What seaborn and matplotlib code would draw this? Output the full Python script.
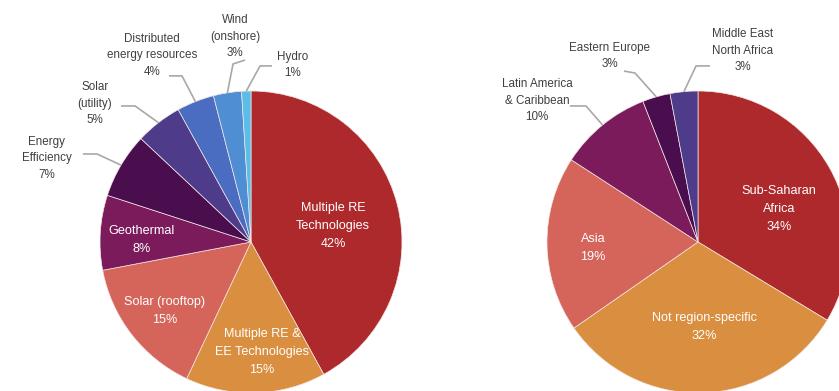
import numpy as np
import matplotlib
matplotlib.use("Agg")
import matplotlib.pyplot as plt
import seaborn as sns

# Funding share by technology
tech_labels = ["Multiple RE\nTechnologies", "Multiple RE &\nEE Technologies", "Solar (rooftop)",
               "Geothermal", "Energy\nEfficiency", "Solar\n(utility)", "Distributed\nenergy resources",
               "Wind\n(onshore)", "Hydro"]
tech_values = [42, 15, 15, 8, 7, 5, 4, 3, 1]

# Funding share by region
region_labels = ["Sub-Saharan\nAfrica", "Not region-specific", "Asia", "Latin America\n& Caribbean",
                 "Eastern Europe", "Middle East\nNorth Africa"]
region_values = [34, 32, 19, 10, 3, 3]

tech_colors = ["#AD292B", "#D98F3F", "#D5655A", "#7B1B5B", "#4A0D4E",
               "#4E3B8A", "#4A6CC1", "#4F8ED2", "#5BBDE9"]
region_colors = ["#AD292B", "#D98F3F", "#D5655A", "#7B1B5B", "#4A0D4E", "#4E3B8A"]

sns.set_theme(style="white")
plt.rcParams["font.family"] = ["Liberation Sans", "DejaVu Sans"]

W, H = 839, 391
fig = plt.figure(figsize=(W / 100, H / 100), dpi=100)
fig.patch.set_facecolor("white")

R_PX = 151
FS_IN, LS_IN = 9.1, 1.62
FS_OUT, LS_OUT = 8.4, 1.5


def pie_axes(cx, cy):
    return fig.add_axes([(cx - R_PX) / W, (H - cy - R_PX) / H, 2 * R_PX / W, 2 * R_PX / H])


def draw_pie(ax, labels, values, colors, inside, outside):
    wedges, _ = ax.pie(values, colors=sns.color_palette(colors), startangle=90, counterclock=False,
                       radius=1, wedgeprops=dict(edgecolor="#f3e6e6", linewidth=0.5))
    ax.set_xlim(-1, 1)
    ax.set_ylim(-1, 1)
    ax.set_aspect("equal")
    ax.axis("off")
    for w in wedges:
        w.set_clip_on(False)
    total = sum(values)
    for i, (lab, val) in enumerate(zip(labels, values)):
        text = f"{lab}\n{round(100 * val / total)}%"
        if i in inside:
            x, y = inside[i]
            ax.text(x, y, text, ha="center", va="center", color="white", fontsize=FS_IN,
                    linespacing=LS_IN, clip_on=False)
        else:
            (tx, ty), elbow = outside[i]
            ax.text(tx, ty, text, ha="center", va="center", color="#404040", fontsize=FS_OUT,
                    linespacing=LS_OUT, clip_on=False)
            w = wedges[i]
            mid = np.deg2rad((w.theta1 + w.theta2) / 2)
            xs = [p[0] for p in elbow] + [np.cos(mid)]
            ys = [p[1] for p in elbow] + [np.sin(mid)]
            ax.plot(xs, ys, color="#a8a8a8", lw=1.2, clip_on=False, solid_capstyle="butt")


ax1 = pie_axes(251, 242)
draw_pie(
    ax1, tech_labels, tech_values, tech_colors,
    inside={0: (0.543, 0.106), 1: (0.073, -0.728), 2: (-0.570, -0.457), 3: (-0.722, 0.013)},
    outside={
        4: ((-1.351, 0.556), [(-1.113, 0.583), (-1.02, 0.583)]),
        5: ((-1.033, 0.914), [(-0.861, 0.901), (-0.768, 0.901)]),
        6: ((-0.656, 1.238), [(-0.543, 1.10), (-0.457, 1.10)]),
        7: ((-0.106, 1.358), [(-0.040, 1.205), (-0.119, 1.179)]),
        8: ((0.278, 1.172), [(0.139, 1.166), (0.06, 1.166)]),
    },
)

ax2 = pie_axes(698, 242)
draw_pie(
    ax2, region_labels, region_values, region_colors,
    inside={0: (0.536, 0.219), 1: (0.04, -0.563), 2: (-0.695, -0.04)},
    outside={
        3: ((-1.066, 0.934), [(-0.848, 0.901), (-0.742, 0.901)]),
        4: ((-0.583, 1.232), [(-0.49, 1.132), (-0.417, 1.119)]),
        5: ((0.298, 1.265), [(0.079, 1.166), (-0.013, 1.166)]),
    },
)

fig.savefig("out.png", dpi=100, facecolor="white")
